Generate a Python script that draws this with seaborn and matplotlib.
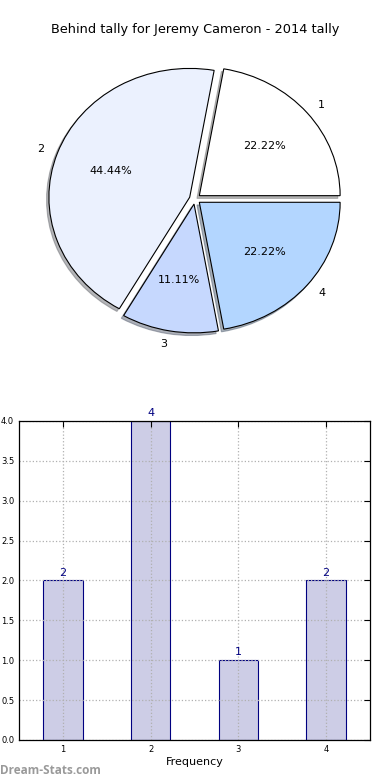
import numpy as np
import pandas as pd
import seaborn as sns
import matplotlib.pyplot as plt

# tally data
behind = ["1", "2", "3", "4"]
counts = [2, 4, 1, 2]
pie_colors = ["#ffffff", "#ebf1fe", "#c6d8fe", "#b3d6ff"]

sns.set_style("white")
plt.rcParams['font.family'] = ['DejaVu Sans']
plt.rcParams['text.color'] = 'black'

fig = plt.figure(figsize=(3.9, 7.8), dpi=100)

# pie (old style, not forced to be round)
ax1 = fig.add_axes([0.0487, 0.5385, 0.9026, 0.4128])
wedges, texts, autotexts = ax1.pie(counts, labels=behind, colors=pie_colors,
                                   explode=[0.04] * len(counts),
                                   shadow={'ox': -0.012, 'oy': -0.015, 'shade': 0.55},
                                   autopct='%.2f%%', startangle=0,
                                   wedgeprops={'edgecolor': 'black', 'linewidth': 0.8},
                                   textprops={'fontsize': 8, 'color': 'black'})
ax1.set_aspect('auto')
ax1.set_position([0.0487, 0.5385, 0.9026, 0.4128])
fig.text(0.5, 1 - 30 / 780, "Behind tally for Jeremy Cameron - 2014 tally",
         ha='center', va='center', fontsize=9.3, color='black')

# bars
df = pd.DataFrame({'behind': behind, 'count': counts})
ax2 = fig.add_axes([0.0487, 0.0513, 0.9, 0.409])
sns.barplot(data=df, x='behind', y='count', order=behind, color='#cdcde6',
            saturation=1, edgecolor='navy', linewidth=0.8, width=0.45, ax=ax2)
ax2.bar_label(ax2.containers[0], color='navy', fontsize=8, padding=2)
ax2.set_xlim(-0.5, 3.5)
ax2.set_ylim(0, 4)
ax2.set_yticks(np.arange(0, 4.01, 0.5))
ax2.set_yticklabels([f"{v:.1f}" for v in np.arange(0, 4.01, 0.5)])
ax2.grid(True, linestyle=':', color='#b0b0b0', linewidth=0.9)
ax2.set_axisbelow(False)
ax2.tick_params(direction='in', length=4, labelsize=6, top=True, right=True,
                colors='black')
for s in ax2.spines.values():
    s.set_color('black')
    s.set_linewidth(0.9)
    s.set_zorder(4)
ax2.set_xlabel("Frequency", fontsize=8, labelpad=2, color='black')
ax2.set_ylabel("")

fig.text(0.0, 1 - 771 / 780, "Dream-Stats.com", ha='left', va='center',
         fontsize=8.5, fontweight='bold', color='#9a9a9a', family=['Open Sans', 'DejaVu Sans'])

fig.savefig("out.png", dpi=100)
